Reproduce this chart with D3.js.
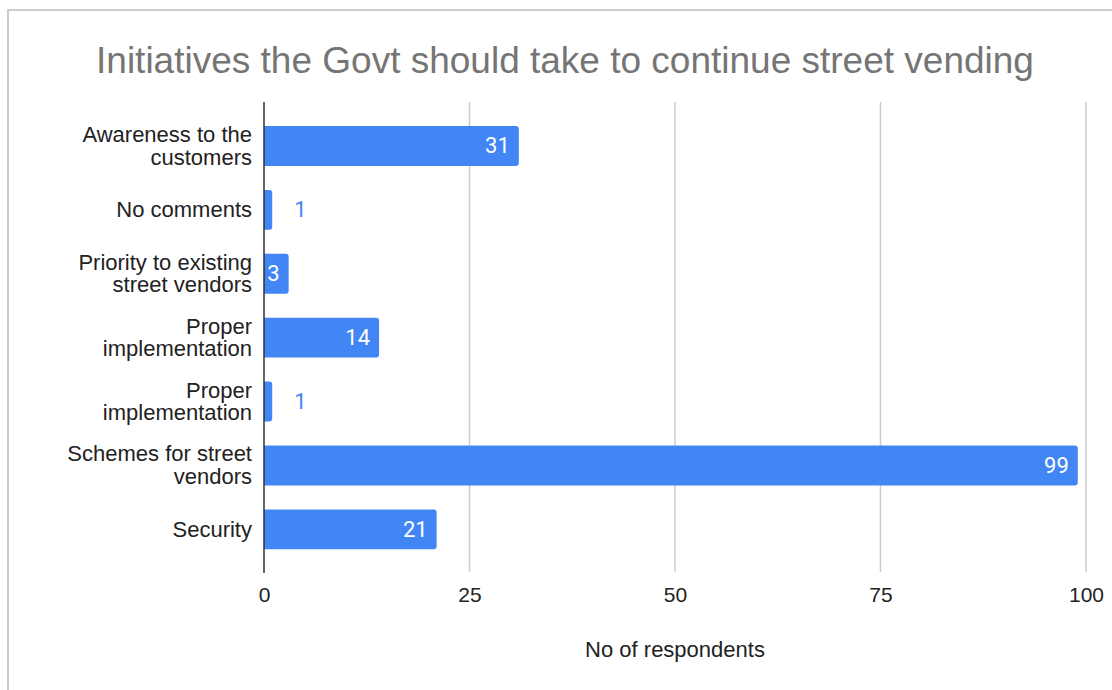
<!DOCTYPE html>
<html>
<head>
<meta charset="utf-8">
<script src="https://cdn.jsdelivr.net/npm/d3@7/dist/d3.min.js"></script>
<style>
  html, body { margin: 0; padding: 0; background: #fff; }
  svg { display: block; }
</style>
</head>
<body>
<svg id="chart" width="1112" height="690"></svg>
<script>
// Survey responses: what the government should do to keep street vending going
const categories = [
  "Awareness to the\ncustomers",
  "No comments",
  "Priority to existing\nstreet vendors",
  "Proper\nimplementation",
  "Proper\nimplementation ",
  "Schemes for street\nvendors",
  "Security"
];
const respondents = [31, 1, 3, 14, 1, 99, 21];
const xTicks = [0, 25, 50, 75, 100];
const chartTitle = "Initiatives the Govt should take to continue street vending";
const xAxisTitle = "No of respondents";

const BLUE = "#4285f4";
const svg = d3.select("#chart");

// card frame
svg.append("rect")
  .attr("x", 8).attr("y", 10)
  .attr("width", 1120).attr("height", 700)
  .attr("fill", "#fff")
  .attr("stroke", "#cccccc").attr("stroke-width", 2);

const plot = { left: 264, right: 1086, top: 102, bottom: 573 };

const x = d3.scaleLinear().domain([0, 100]).range([plot.left, plot.right]);
const y = d3.scaleBand()
  .domain(categories)
  .range([114, 561.3])
  .paddingInner(0.375)
  .paddingOuter(0.1875);

// title
svg.append("text")
  .attr("x", 565).attr("y", 73)
  .attr("text-anchor", "middle")
  .attr("font-family", "Liberation Sans, Arial, sans-serif")
  .attr("font-size", 37)
  .attr("fill", "#757575")
  .text(chartTitle);

// vertical gridlines
svg.append("g")
  .selectAll("line")
  .data(xTicks.filter(d => d !== 0))
  .join("line")
  .attr("x1", d => x(d)).attr("x2", d => x(d))
  .attr("y1", plot.top).attr("y2", plot.bottom - 1)
  .attr("stroke", "#cccccc")
  .attr("stroke-width", 1.5);

// x axis tick labels
const xAxis = d3.axisBottom(x).tickValues(xTicks).tickSize(0).tickPadding(0);
const gx = svg.append("g")
  .attr("transform", `translate(0, ${plot.bottom})`)
  .call(xAxis);
gx.select(".domain").remove();
gx.selectAll("text")
  .attr("y", 29)
  .attr("dy", null)
  .attr("font-family", "Liberation Sans, Arial, sans-serif")
  .attr("font-size", 21)
  .attr("fill", "#222");

// axis title
svg.append("text")
  .attr("x", 675).attr("y", 657)
  .attr("text-anchor", "middle")
  .attr("font-family", "Liberation Sans, Arial, sans-serif")
  .attr("font-size", 22)
  .attr("fill", "#222")
  .text(xAxisTitle);

// bars with rounded right corners
function barPath(x0, x1, y0, h, r) {
  const rr = Math.min(r, (x1 - x0) / 2, h / 2);
  return `M${x0},${y0}H${x1 - rr}Q${x1},${y0} ${x1},${y0 + rr}` +
         `V${y0 + h - rr}Q${x1},${y0 + h} ${x1 - rr},${y0 + h}H${x0}Z`;
}

const rows = categories.map((c, i) => ({ cat: c, value: respondents[i] }));

svg.append("g")
  .selectAll("path")
  .data(rows)
  .join("path")
  .attr("d", d => barPath(x(0), x(d.value), y(d.cat), y.bandwidth(), 3))
  .attr("fill", BLUE);

// value labels: inside the bar when it fits, otherwise to its right
svg.append("g")
  .selectAll("text")
  .data(rows)
  .join("text")
  .attr("x", d => d.value >= 3 ? x(d.value) - 9 : x(d.value) + 22)
  .attr("y", d => y(d.cat) + y.bandwidth() / 2)
  .attr("dy", "0.33em")
  .attr("text-anchor", d => d.value >= 3 ? "end" : "start")
  .attr("font-family", "Roboto, Liberation Sans, Arial, sans-serif")
  .attr("font-size", 22)
  .attr("fill", d => d.value >= 3 ? "#ffffff" : BLUE)
  .text(d => d.value);

// category labels (wrapped onto up to two lines)
const lineH = 22.6;
const yLabels = svg.append("g")
  .selectAll("text")
  .data(categories)
  .join("text")
  .attr("text-anchor", "end")
  .attr("font-family", "Liberation Sans, Arial, sans-serif")
  .attr("font-size", 22)
  .attr("fill", "#222");
yLabels.each(function (c) {
  const lines = c.trim().split("\n");
  const cy = y(c) + y.bandwidth() / 2;
  const first = cy - (lines.length - 1) * lineH / 2;
  d3.select(this).selectAll("tspan")
    .data(lines)
    .join("tspan")
    .attr("x", 252)
    .attr("y", (d, i) => first + i * lineH)
    .attr("dy", "0.33em")
    .text(d => d);
});

// baseline axis at zero
svg.append("line")
  .attr("x1", x(0)).attr("x2", x(0))
  .attr("y1", plot.top).attr("y2", plot.bottom)
  .attr("stroke", "#333")
  .attr("stroke-width", 1.5);
</script>
</body>
</html>
